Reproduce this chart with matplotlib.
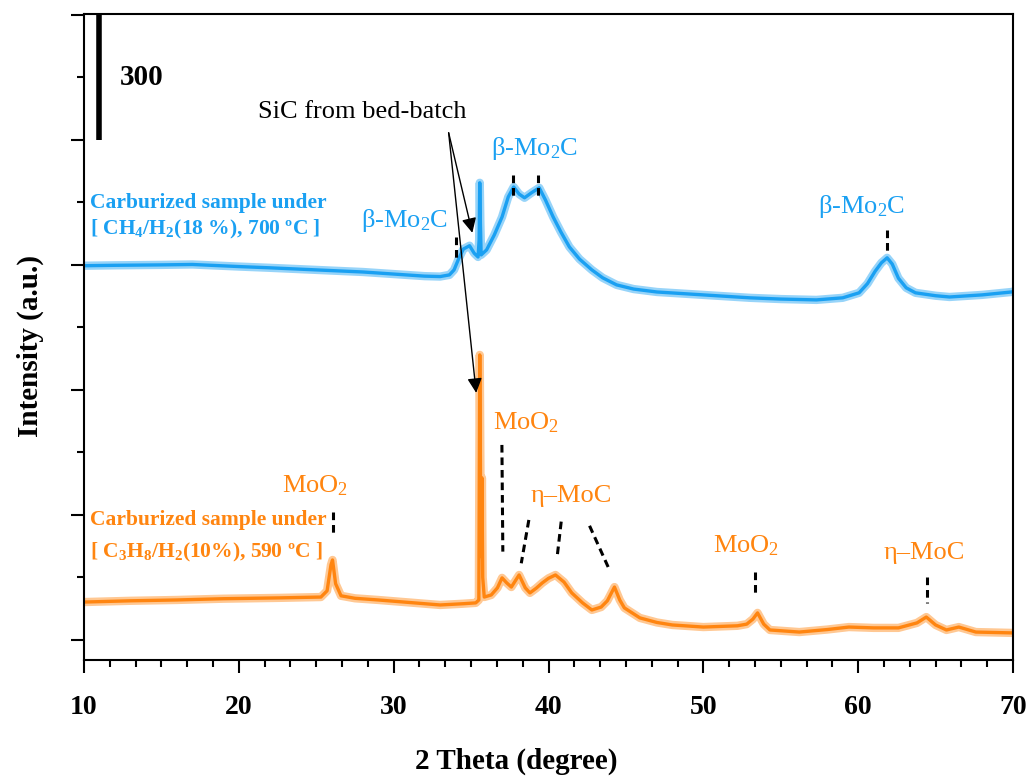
import numpy as np
import matplotlib
matplotlib.use("Agg")
import matplotlib.pyplot as plt
from matplotlib.ticker import MultipleLocator

x_azul = [10, 12, 15, 17, 20, 22, 25, 28, 30, 32, 33, 33.6, 33.9, 34.2, 34.5, 34.9,
          35.2, 35.45, 35.52, 35.56, 35.6, 35.65, 36.0, 36.5, 37.0, 37.4, 37.75, 38.1,
          38.45, 38.9, 39.4, 39.8, 40.3, 40.8, 41.35, 42, 42.8, 43.5, 44.4, 45.5, 47,
          50, 53, 55, 57.3, 59, 60.06, 60.6, 61.1, 61.5, 61.87, 62.2, 62.6, 63.1, 63.7,
          65, 65.9, 68, 69.9, 70]
y_azul = [898, 899, 900, 901, 896, 893, 888, 883, 878, 873, 872, 876, 888, 915, 938, 946,
          928, 919, 960, 1097, 1000, 924, 936, 972, 1015, 1063, 1087, 1070,
          1061, 1073, 1085, 1056, 1015, 979, 943, 914, 888, 869, 852, 842, 835,
          828, 821, 818, 816, 821, 833, 855, 885, 905, 917, 902, 868, 845, 833,
          826, 823, 828, 835, 836]

x_naranja = [10, 13, 16, 19, 22.6, 25.3, 25.7, 25.95, 26.05, 26.25, 26.6, 27.5, 29, 31,
             33, 34.5, 35.3, 35.5, 35.56, 35.62, 35.66, 35.7, 35.75, 35.85, 36.3, 36.7,
             37.0, 37.3, 37.6, 38.1, 38.5, 38.8, 39.2, 39.6, 40.0, 40.45, 41.0, 41.5,
             42.2, 42.8, 43.4, 43.8, 44.26, 44.6, 44.9, 45.9, 47, 48, 50, 52.2, 52.8,
             53.2, 53.5, 53.9, 54.3, 56.2, 58, 59.4, 61, 62.6, 63.8, 64.4, 65.0, 65.7,
             66.5, 67.6, 69.9, 70]
y_naranja = [91, 94, 96, 99, 101, 103, 118, 180, 192, 135, 106, 100, 96, 90,
             84, 87, 89, 96, 684, 300, 200, 389, 150, 103, 108, 125,
             149, 137, 127, 156, 125, 113, 124, 137, 148, 156, 139, 113,
             89, 72, 79, 94, 127, 96, 77, 53, 42, 36, 31, 34, 38,
             50, 65, 38, 24, 19, 25, 31, 29, 29, 41, 55, 36, 24,
             31, 19, 17, 17]

# Marcas de picos (x, y inicio, x, y fin)
marcas_azul = [(34.04, 968, 34.04, 908), (37.72, 1116, 37.72, 1056),
               (39.35, 1116, 39.35, 1056), (61.85, 984, 61.85, 924)]
marcas_naranja = [(26.08, 308, 26.08, 248), (36.99, 468, 37.05, 212),
                  (38.73, 288, 38.24, 184), (40.82, 284, 40.56, 200),
                  (42.65, 274, 43.89, 172), (53.34, 164, 53.34, 104),
                  (64.47, 151, 64.47, 89)]

# Etiquetas de fases (texto, x, y)
fases_azul = [(r"β-Mo$_2$C", 30.7, 991), (r"β-Mo$_2$C", 39.1, 1164), (r"β-Mo$_2$C", 60.2, 1025)]
fases_naranja = [(r"MoO$_2$", 24.95, 355), (r"MoO$_2$", 38.53, 506), ("η–MoC", 41.45, 331),
                 (r"MoO$_2$", 52.73, 209), ("η–MoC", 64.29, 194)]

azul = "#1aa0f2"
naranja = "#ff8510"

plt.rcParams["font.family"] = ["Liberation Serif", "DejaVu Serif"]
plt.rcParams["mathtext.fontset"] = "custom"
plt.rcParams["mathtext.rm"] = "Liberation Serif"
plt.rcParams["mathtext.it"] = "Liberation Serif:italic"
plt.rcParams["mathtext.bf"] = "Liberation Serif:bold"

fig = plt.figure(figsize=(10.32, 7.78), dpi=100)
ax = fig.add_axes([0.0814, 0.1517, 0.9002, 0.8303])

# Curvas (banda ancha para simular el ruido)
ax.plot(x_azul, y_azul, color=azul, lw=6, alpha=0.45, solid_joinstyle="round")
ax.plot(x_azul, y_azul, color=azul, lw=2.4)
ax.plot(x_naranja, y_naranja, color=naranja, lw=6, alpha=0.45, solid_joinstyle="round")
ax.plot(x_naranja, y_naranja, color=naranja, lw=2.4)

# Líneas discontinuas de los picos
for (xa, ya, xb, yb) in marcas_azul + marcas_naranja:
    ax.plot([xa, xb], [ya, yb], color="k", lw=2.2, ls=(0, (2.5, 1.6)))

for (t, xt, yt) in fases_azul:
    ax.text(xt, yt, t, color=azul, fontsize=19, ha="center", va="baseline")
for (t, xt, yt) in fases_naranja:
    ax.text(xt, yt, t, color=naranja, fontsize=19, ha="center", va="baseline")

# Nombres de las muestras
ax.text(10.39, 1037, "Carburized sample under", color=azul, fontsize=15.5,
        fontweight="bold", va="baseline")
ax.text(10.39, 972, r"[ CH$_\mathbf{4}$/H$_\mathbf{2}$(18 %), 700 ºC ]", color=azul,
        fontsize=15.5, fontweight="bold", va="baseline")
ax.text(10.39, 276, "Carburized sample under", color=naranja, fontsize=15.5,
        fontweight="bold", va="baseline")
ax.text(10.39, 199, r"[ C$_\mathbf{3}$H$_\mathbf{8}$/H$_\mathbf{2}$(10%), 590 ºC ]",
        color=naranja, fontsize=15.5, fontweight="bold", va="baseline")

# SiC y flechas
ax.text(28.0, 1267, "SiC from bed-batch", fontsize=19, ha="center", va="center")
for (xf, yf) in [(35.08, 977), (35.33, 593)]:
    ax.annotate("", xy=(xf, yf), xytext=(33.55, 1217),
                arrowprops=dict(arrowstyle="-|>", color="k", lw=1,
                                mutation_scale=22, shrinkA=0, shrinkB=0))

# Barra de escala
ax.plot([11.0, 11.0], [1200, 1500], color="k", lw=4, solid_capstyle="butt")
ax.text(12.33, 1349, "300", fontsize=21, fontweight="bold", va="center", ha="left")

ax.set_xlim(10, 70)
ax.set_ylim(-48, 1502)
ax.xaxis.set_major_locator(MultipleLocator(10))
ax.xaxis.set_minor_locator(MultipleLocator(10 / 6))
ax.yaxis.set_major_locator(MultipleLocator(300))
ax.yaxis.set_minor_locator(MultipleLocator(150))
ax.tick_params(which="both", direction="out", width=1.5, top=False, right=False)
ax.tick_params(which="major", length=9.5)
ax.tick_params(which="minor", length=5)
ax.tick_params(axis="x", which="major", pad=16, labelsize=20)
ax.set_yticklabels([])
for lab in ax.get_xticklabels():
    lab.set_fontweight("bold")
for s in ax.spines.values():
    s.set_linewidth(1.5)

fig.text(0.029, 0.555, "Intensity (a.u.)", rotation=90, fontsize=21, fontweight="bold",
         ha="center", va="center")
fig.text(0.5, 0.022, "2 Theta (degree)", fontsize=21, fontweight="bold",
         ha="center", va="center")

fig.savefig("out.png", dpi=100)
